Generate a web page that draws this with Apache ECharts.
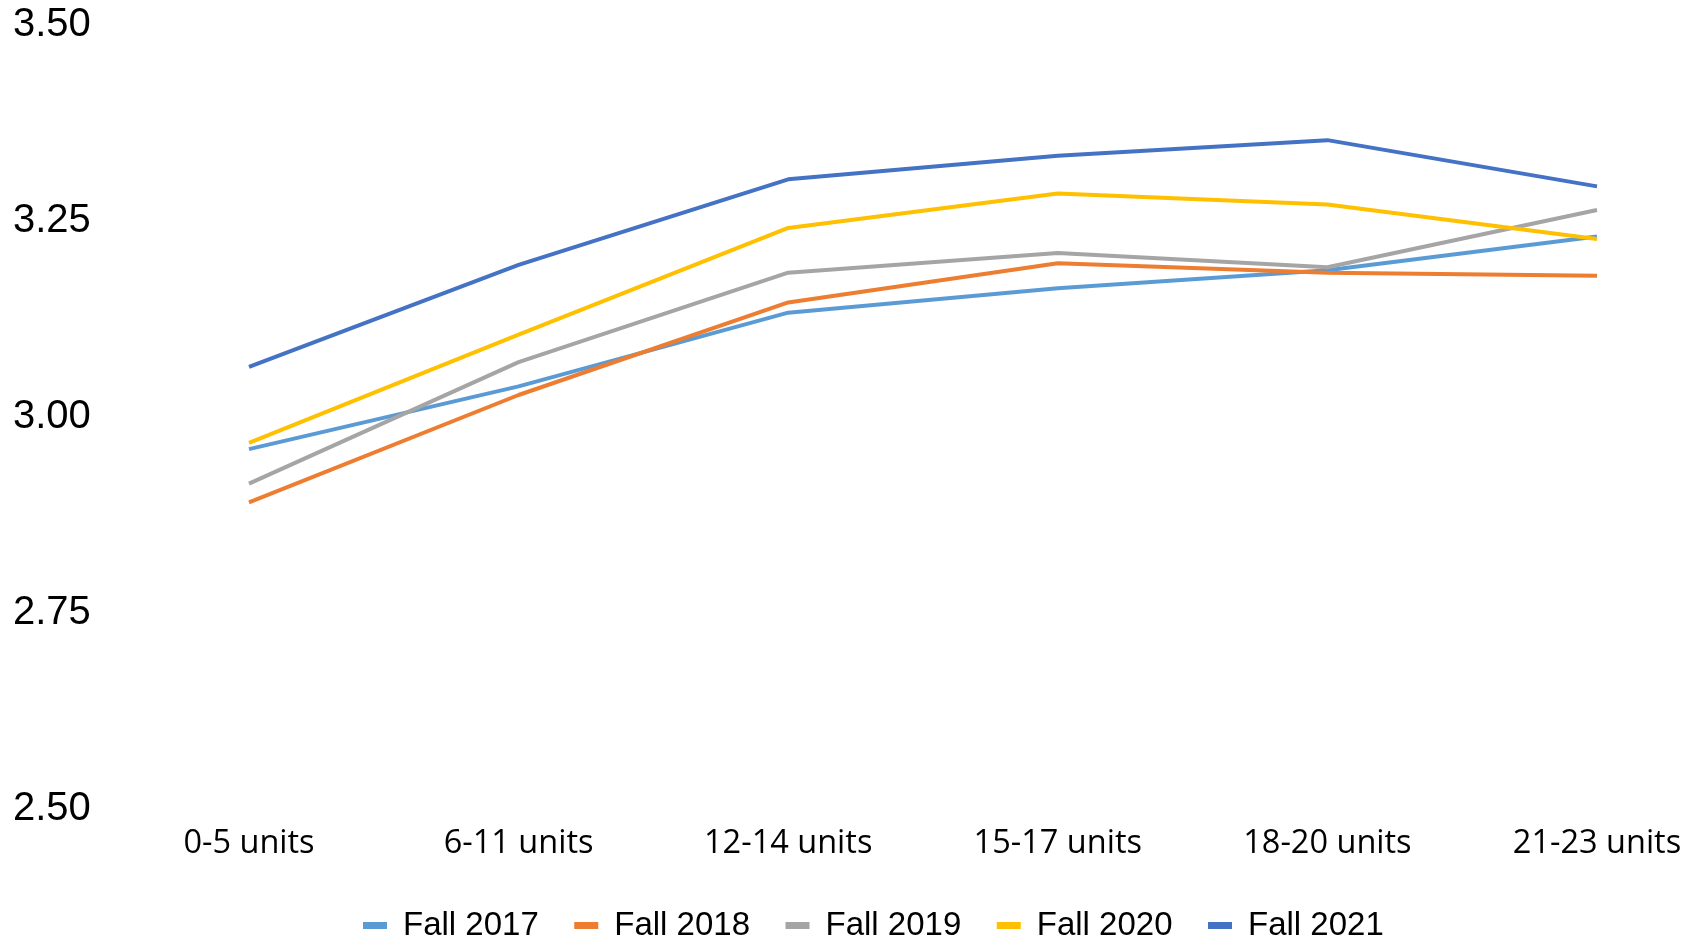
<!DOCTYPE html>
<html>
<head>
<meta charset="utf-8">
<title>GPA by unit load</title>
<script src="https://cdn.jsdelivr.net/npm/echarts@6/dist/echarts.min.js"></script>
<style>
  html, body { margin: 0; padding: 0; background: #fff; }
  #chart { width: 1700px; height: 938px; }
</style>
</head>
<body>
<div id="chart"></div>
<script>
// Unit-load bands on the horizontal axis
const categories = ['0-5 units', '6-11 units', '12-14 units', '15-17 units', '18-20 units', '21-23 units'];

// Average GPA per term
const fall2017 = [2.956, 3.036, 3.130, 3.161, 3.184, 3.227];
const fall2018 = [2.888, 3.025, 3.143, 3.193, 3.181, 3.177];
const fall2019 = [2.912, 3.067, 3.181, 3.206, 3.188, 3.261];
const fall2020 = [2.964, 3.102, 3.238, 3.282, 3.268, 3.224];
const fall2021 = [3.061, 3.191, 3.300, 3.330, 3.350, 3.291];

const seriesNames = ['Fall 2017', 'Fall 2018', 'Fall 2019', 'Fall 2020', 'Fall 2021'];
const seriesData = [fall2017, fall2018, fall2019, fall2020, fall2021];
const colors = ['#5B9BD5', '#ED7D31', '#A5A5A5', '#FFC000', '#4472C4'];

const chart = echarts.init(document.getElementById('chart'), null, { renderer: 'canvas' });

chart.setOption({
  animation: false,
  color: colors,
  grid: { left: 249, right: 103, top: 22.5, bottom: 131.3, containLabel: false },
  xAxis: {
    type: 'category',
    data: categories,
    boundaryGap: false,
    axisLine: { show: false },
    axisTick: { show: false },
    splitLine: { show: false },
    axisLabel: {
      color: '#000',
      fontFamily: 'Open Sans',
      fontSize: 32.5,
      margin: 21,
      interval: 0
    }
  },
  yAxis: {
    type: 'value',
    min: 2.5,
    max: 3.5,
    interval: 0.25,
    axisLine: { show: false },
    axisTick: { show: false },
    splitLine: { show: false },
    axisLabel: {
      color: '#000',
      fontFamily: 'Liberation Sans',
      fontSize: 40,
      align: 'left',
      verticalAlign: 'top',
      lineHeight: 5,
      margin: 236,
      formatter: v => v.toFixed(2)
    }
  },
  legend: {
    data: seriesNames,
    left: 358,
    top: 904,
    icon: 'rect',
    itemWidth: 24,
    itemHeight: 7,
    itemGap: 35.5,
    textStyle: {
      color: '#000',
      fontFamily: 'Liberation Sans',
      fontSize: 33,
      padding: [0, 0, 0, 11]
    }
  },
  series: seriesNames.map((name, i) => ({
    name: name,
    type: 'line',
    data: seriesData[i],
    symbol: 'none',
    lineStyle: { width: 4, color: colors[i] },
    itemStyle: { color: colors[i] }
  }))
});
</script>
</body>
</html>
